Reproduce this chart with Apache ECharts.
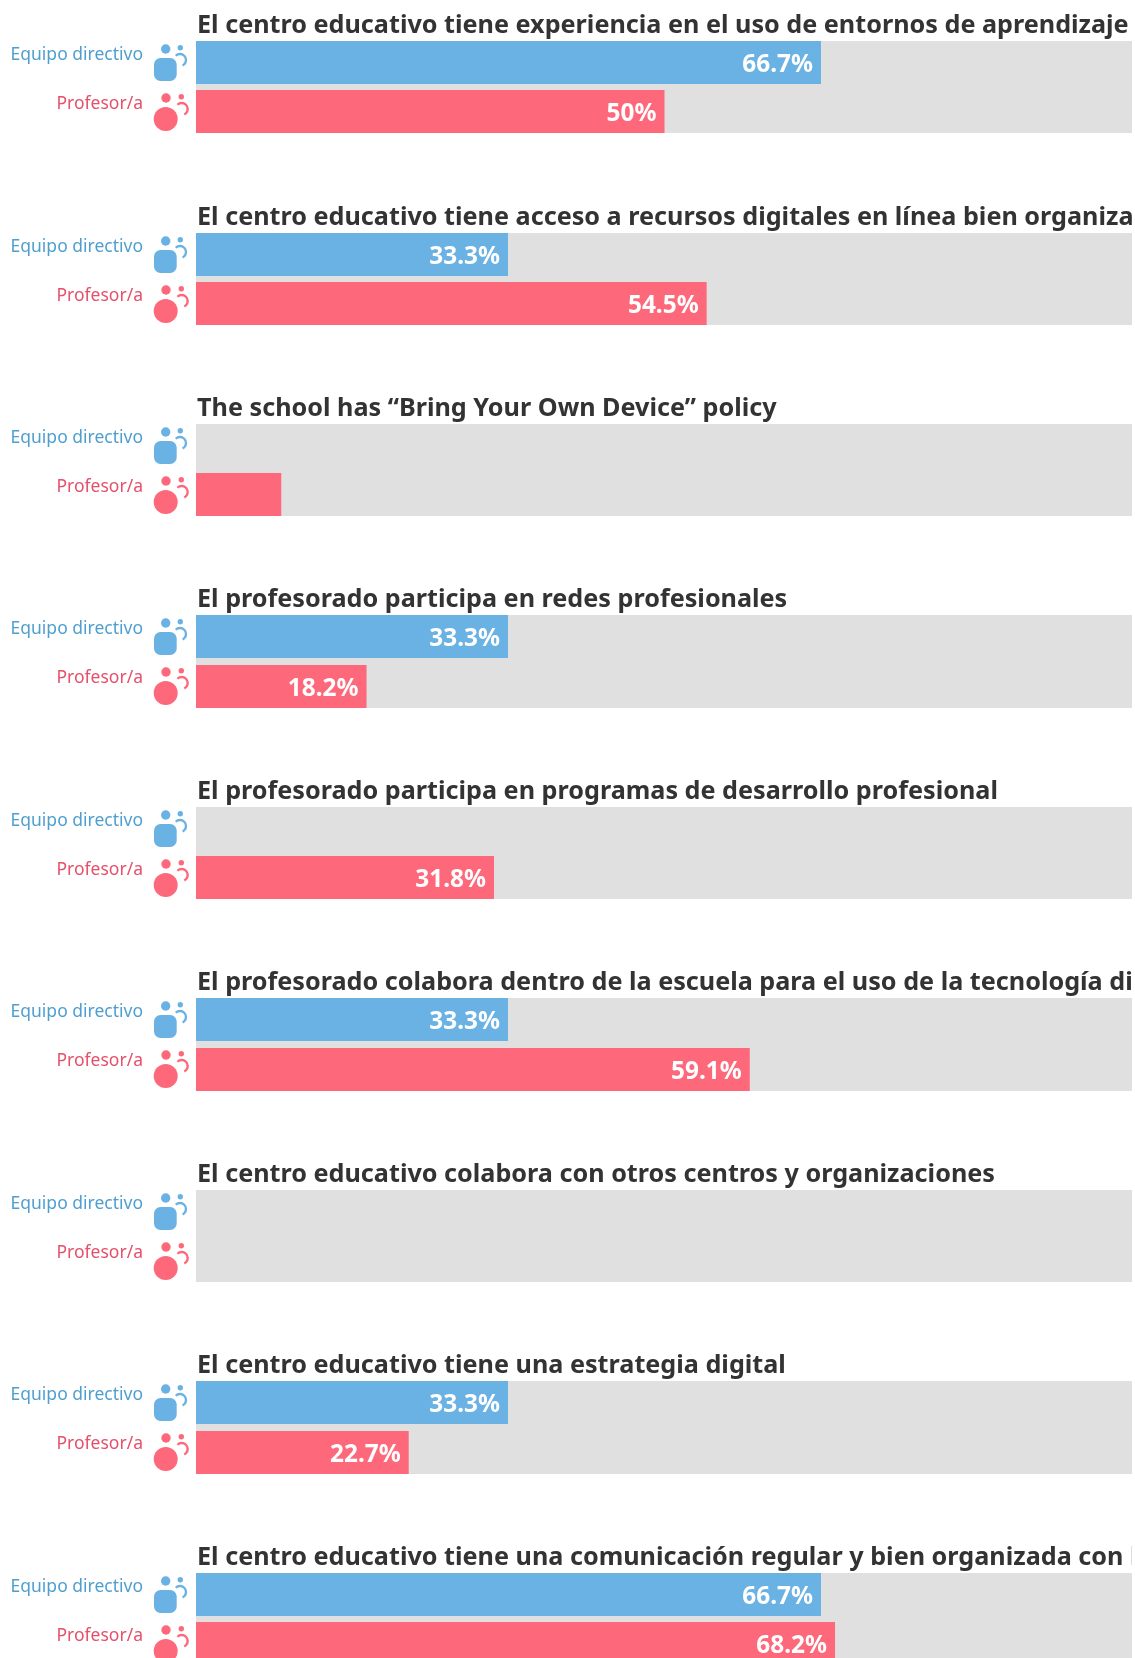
<!DOCTYPE html>
<html>
<head>
<meta charset="utf-8">
<title>Chart</title>
<script src="https://cdn.jsdelivr.net/npm/echarts@6/dist/echarts.min.js"></script>
<style>
  html, body { margin: 0; padding: 0; background: #fff; overflow: hidden; }
  /* narrower than the window on purpose: long titles get cut at the bar edge */
  #chart { width: 1132px; height: 1658px; }
</style>
</head>
<body>
<div id="chart"></div>
<script>
const questions = [
    'El centro educativo tiene experiencia en el uso de entornos de aprendizaje en línea',
    'El centro educativo tiene acceso a recursos digitales en línea bien organizados',
    'The school has “Bring Your Own Device” policy',
    'El profesorado participa en redes profesionales',
    'El profesorado participa en programas de desarrollo profesional',
    'El profesorado colabora dentro de la escuela para el uso de la tecnología digital',
    'El centro educativo colabora con otros centros y organizaciones',
    'El centro educativo tiene una estrategia digital',
    'El centro educativo tiene una comunicación regular y bien organizada con las familias'
];
const seriesNames = ['Equipo directivo', 'Profesor/a'];
const directivoValues = [66.7, 33.3, 0, 33.3, 0, 33.3, 0, 33.3, 66.7];
const profesorValues = [50, 54.5, 9.1, 18.2, 31.8, 59.1, 0, 22.7, 68.2];

const BLUE = '#6bb2e4';
const RED = '#fd687b';
const BLUE_TEXT = '#4e9fd0';
const RED_TEXT = '#e5506b';
const FONT = 'Noto Sans';

// panels sit on a 191.5px step, snapped to whole pixels like the original
const PANEL_TOPS = [41, 233, 424, 615, 807, 998, 1190, 1381, 1573];
const BAR_GAPS = [6, 6, 6, 7, 6, 7, 6, 7, 6];
const BAR_LEFT = 196;
const BAR_WIDTH = 937;
const BAR_H = 43;
// bars under 10% are too short to hold their label
const MIN_LABELLED = 10;

function iconParts(top) {
    const arc = (cx, cy, color) => ({
        type: 'arc',
        shape: { cx: cx, cy: cy, r: 6, startAngle: -2.36, endAngle: 1.13 },
        style: { stroke: color, fill: 'none', lineWidth: 2.4 }
    });
    const dot = (cx, cy, r, color) => ({
        type: 'circle', shape: { cx: cx, cy: cy, r: r }, style: { fill: color }
    });
    return [
        dot(165.7, top + 8, 4.7, BLUE),
        dot(180.3, top + 6.7, 2.7, BLUE),
        {
            type: 'rect',
            shape: { x: 154, y: top + 17, width: 22.7, height: 23, r: 6.5 },
            style: { fill: BLUE }
        },
        arc(180, top + 19, BLUE),
        dot(166, top + 57, 4.7, RED),
        dot(181.3, top + 55.7, 2.7, RED),
        dot(165.7, top + 78, 12, RED),
        arc(181.7, top + 68, RED)
    ];
}

const titles = [], grids = [], xAxes = [], yAxes = [], series = [], graphics = [];

questions.forEach(function (q, i) {
    const top = PANEL_TOPS[i];
    const gap = BAR_GAPS[i];
    titles.push({
        text: q,
        left: BAR_LEFT + 1,
        top: top - 28,
        padding: 0,
        textStyle: { fontFamily: FONT, fontSize: 25.2, fontWeight: 'bold', color: '#333333' }
    });
    grids.push({
        left: BAR_LEFT,
        top: top,
        width: BAR_WIDTH,
        height: BAR_H * 2 + gap,
        // the last panel runs off the page, keep its full height
        outerBoundsMode: 'none',
        show: true,
        backgroundColor: '#e0e0e0',
        borderWidth: 0
    });
    xAxes.push({ gridIndex: i, type: 'value', min: 0, max: 100, show: false });
    yAxes.push({ gridIndex: i, type: 'category', data: [q], show: false });
    [directivoValues, profesorValues].forEach(function (values, s) {
        series.push({
            type: 'bar',
            name: seriesNames[s],
            xAxisIndex: i,
            yAxisIndex: i,
            data: [values[i]],
            barWidth: BAR_H,
            barGap: (gap / BAR_H * 100) + '%',
            itemStyle: { color: s === 0 ? BLUE : RED },
            silent: true,
            label: {
                show: true,
                position: 'insideRight',
                distance: 8,
                offset: [0, 3],
                color: '#fff',
                fontFamily: FONT,
                fontSize: 24.4,
                fontWeight: 'bold',
                formatter: p => p.value < MIN_LABELLED ? '' : p.value + '%'
            }
        });
    });
    seriesNames.forEach(function (name, s) {
        graphics.push({
            type: 'text',
            style: {
                text: name,
                x: 143,
                y: top + 14 + s * 49,
                align: 'right',
                verticalAlign: 'middle',
                fontFamily: FONT,
                fontSize: 17.5,
                fill: s === 0 ? BLUE_TEXT : RED_TEXT
            }
        });
    });
    iconParts(top).forEach(p => graphics.push(p));
});

const chart = echarts.init(document.getElementById('chart'));
chart.setOption({
    animation: false,
    title: titles,
    grid: grids,
    xAxis: xAxes,
    yAxis: yAxes,
    series: series,
    graphic: graphics
});
</script>
</body>
</html>
